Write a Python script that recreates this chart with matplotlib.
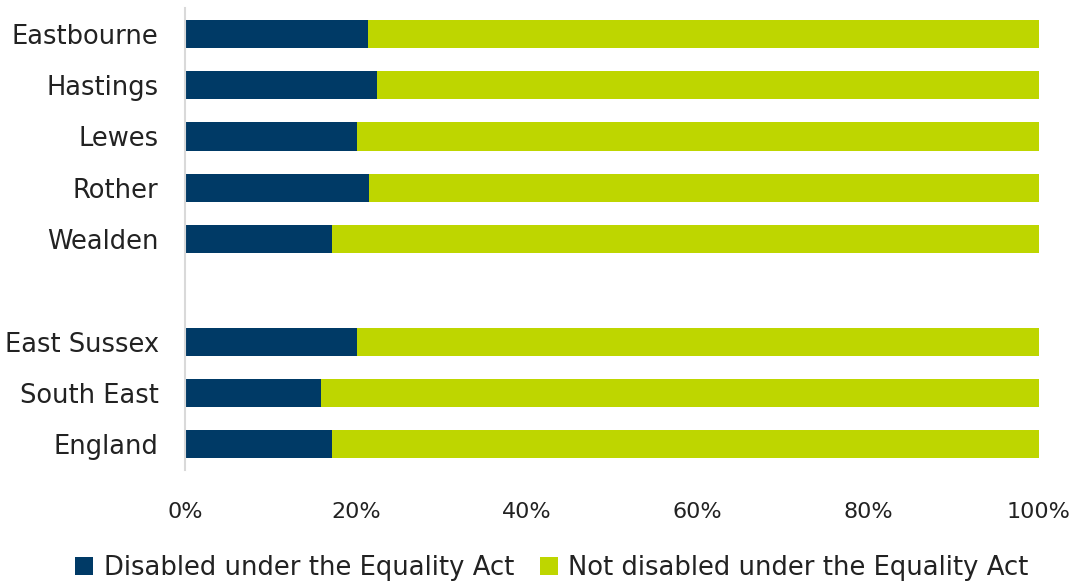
import numpy as np
import matplotlib
matplotlib.use("Agg")
import matplotlib.pyplot as plt
from matplotlib.ticker import FuncFormatter

# areas (top to bottom) and share disabled (%)
areas = ["Eastbourne", "Hastings", "Lewes", "Rother", "Wealden",
         "East Sussex", "South East", "England"]
disabled = [21.4, 22.5, 20.1, 21.5, 17.2, 20.1, 15.9, 17.2]
not_disabled = [100 - d for d in disabled]
positions = [0, 1, 2, 3, 4, 6, 7, 8]

navy = "#003a66"
green = "#bed600"

plt.rcParams["font.family"] = ["DejaVu Sans"]

fig = plt.figure(figsize=(10.76, 5.83), dpi=100)
ax = fig.add_axes([0.172, 0.194, 0.7936, 0.792])

ax.barh(positions, disabled, height=0.55, color=navy, label="Disabled under the Equality Act")
ax.barh(positions, not_disabled, left=disabled, height=0.55, color=green,
        label="Not disabled under the Equality Act")

ax.set_ylim(8.5, -0.5)
ax.set_xlim(0, 100)
ax.set_yticks(positions)
ax.set_yticklabels(areas, fontsize=18.5, color="#222222")
ax.set_xticks(np.arange(0, 101, 20))
ax.xaxis.set_major_formatter(FuncFormatter(lambda v, p: f"{v:.0f}%"))
ax.tick_params(axis="x", labelsize=16, colors="#222222", length=0, pad=23)
ax.tick_params(axis="y", length=0, pad=19)

for s in ["top", "right", "bottom"]:
    ax.spines[s].set_visible(False)
ax.spines["left"].set_color("#d9d9d9")
ax.spines["left"].set_linewidth(1.5)

fig.legend(loc="lower center", bbox_to_anchor=(0.513, -0.036), ncol=2, frameon=False,
           fontsize=18.6, handlelength=0.7, handleheight=0.7, handletextpad=0.4,
           columnspacing=1.0, labelcolor="#222222")

fig.savefig("out.png", dpi=100)
